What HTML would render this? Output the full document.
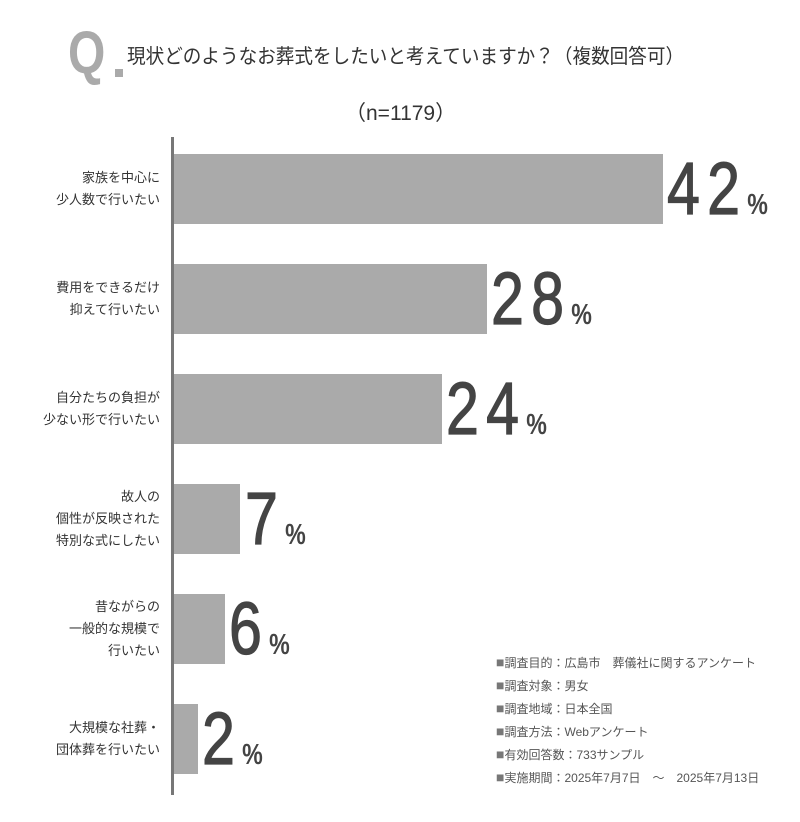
<!DOCTYPE html>
<html><head><meta charset="utf-8"><style>
body{margin:0;width:800px;height:822px;background:#fff;position:relative;overflow:hidden;font-family:"Liberation Sans","Noto Sans CJK JP",sans-serif;color:#333}
.a{position:absolute}
.bar{position:absolute;left:174px;height:70px;background:#aaa}
.lab{position:absolute;right:640px;text-align:right;font-size:13px;line-height:22px;color:#333;white-space:nowrap}
.pct{position:absolute;color:#444;white-space:nowrap;transform-origin:left top;transform:scaleX(0.8)}
.pct b{font-size:74px;letter-spacing:9px;font-weight:normal;-webkit-text-stroke:1.2px #444}
.pct i{font-style:normal;font-size:29px;font-weight:bold}
.note{position:absolute;left:496px;font-size:12px;color:#555;white-space:nowrap}
.note s{text-decoration:none;font-size:14px;color:#777}
</style></head><body>
<div class="a" style="left:68px;top:22px;font-size:60px;font-weight:bold;color:#aaa;transform:scaleX(0.8);transform-origin:left top;line-height:62px">Q</div>
<div class="a" style="left:115px;top:69px;width:8px;height:8px;background:#aaa"></div>
<div class="a" style="left:127px;top:40px;font-size:20px;color:#333;white-space:nowrap;transform:scaleX(0.93);transform-origin:left top">現状どのようなお葬式をしたいと考えていますか？（複数回答可）</div>
<div class="a" style="left:345px;top:97px;font-size:21px;color:#333">（n=1179）</div>
<div class="a" style="left:171px;top:137px;width:3px;height:658px;background:#777"></div>

<div class="bar" style="top:154px;width:489px"></div>
<div class="bar" style="top:264px;width:313px"></div>
<div class="bar" style="top:374px;width:268px"></div>
<div class="bar" style="top:484px;width:66px"></div>
<div class="bar" style="top:594px;width:51px"></div>
<div class="bar" style="top:704px;width:24px"></div>

<div class="lab" style="top:167px">家族を中心に<br>少人数で行いたい</div>
<div class="lab" style="top:277px">費用をできるだけ<br>抑えて行いたい</div>
<div class="lab" style="top:387px">自分たちの負担が<br>少ない形で行いたい</div>
<div class="lab" style="top:486px">故人の<br>個性が反映された<br>特別な式にしたい</div>
<div class="lab" style="top:596px">昔ながらの<br>一般的な規模で<br>行いたい</div>
<div class="lab" style="top:717px">大規模な社葬・<br>団体葬を行いたい</div>

<div class="pct" style="left:667px;top:146px"><b>42</b><i>%</i></div>
<div class="pct" style="left:491px;top:256px"><b>28</b><i>%</i></div>
<div class="pct" style="left:446px;top:366px"><b>24</b><i>%</i></div>
<div class="pct" style="left:245px;top:476px"><b>7</b><i>%</i></div>
<div class="pct" style="left:229px;top:586px"><b>6</b><i>%</i></div>
<div class="pct" style="left:202px;top:696px"><b>2</b><i>%</i></div>

<div class="note" style="top:654px"><s>■</s>調査目的：広島市　葬儀社に関するアンケート</div>
<div class="note" style="top:677px"><s>■</s>調査対象：男女</div>
<div class="note" style="top:700px"><s>■</s>調査地域：日本全国</div>
<div class="note" style="top:723px"><s>■</s>調査方法：Webアンケート</div>
<div class="note" style="top:746px"><s>■</s>有効回答数：733サンプル</div>
<div class="note" style="top:769px"><s>■</s>実施期間：2025年7月7日　～　2025年7月13日</div>
</body></html>
